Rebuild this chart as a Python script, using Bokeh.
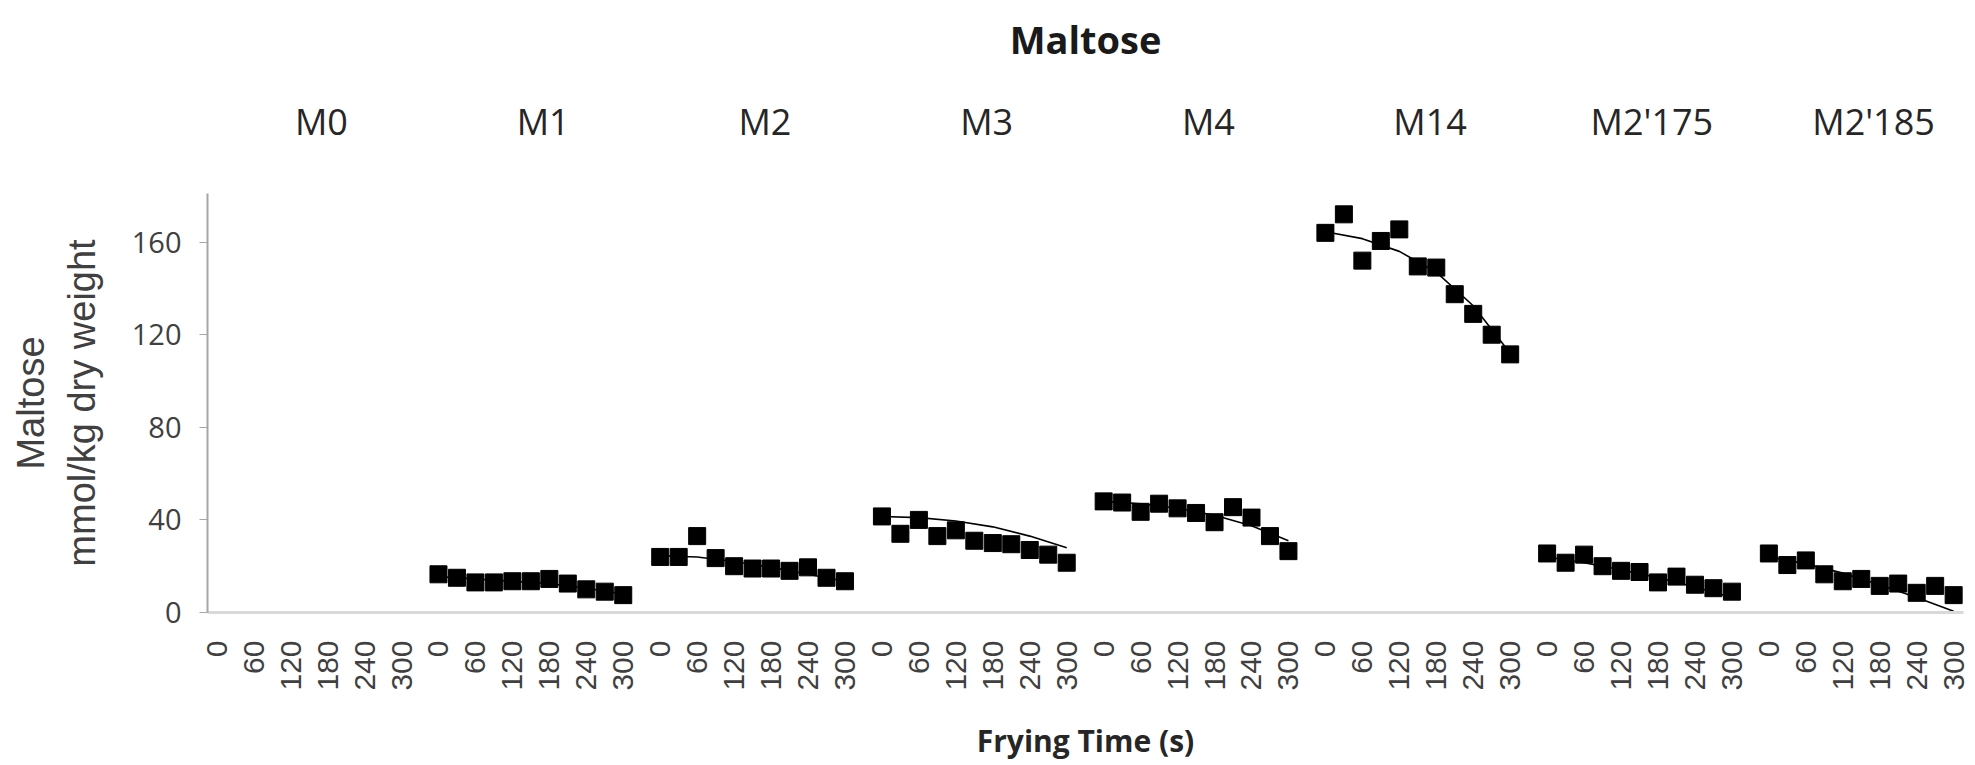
import math
from bokeh.plotting import figure
from bokeh.models import LinearAxis, FixedTicker, Range1d
from bokeh.embed import file_html
from bokeh.resources import INLINE

# ---- data ----
groups = ["M0", "M1", "M2", "M3", "M4", "M14", "M2'175", "M2'185"]
times = [0, 30, 60, 90, 120, 150, 180, 210, 240, 270, 300]
tick_times = [0, 60, 120, 180, 240, 300]

maltose_M0 = []
maltose_M1 = [16.5, 15, 13, 13, 13.5, 13.5, 14.5, 12.5, 10, 9, 7.5]
maltose_M2 = [24, 24, 33, 23.5, 20, 19, 19, 18, 19.5, 15, 13.5]
maltose_M3 = [41.5, 34, 40, 33, 35.5, 31, 30, 29.5, 27, 25, 21.5]
maltose_M4 = [48, 47.5, 43.5, 47, 45, 43, 39, 45.5, 41, 33, 26.5]
maltose_M14 = [164, 172, 152, 160.5, 165.5, 149.5, 149, 137.5, 129, 120, 111.5]
maltose_M2_175 = [25.5, 21.5, 25, 20, 18, 17.5, 13, 15.5, 12, 10.5, 9]
maltose_M2_185 = [25.5, 20.5, 22.5, 16.5, 13.5, 14.5, 11.5, 12.5, 8.5, 11.5, 7.5]

# model (trend) curves, read at 0, 60, ..., 300 s
fit_times = [0, 60, 120, 180, 240, 300]
fit_M0 = []
fit_M1 = [15.5, 14.5, 13.5, 12.5, 10.5, 8]
fit_M2 = [24.5, 24, 22, 19.5, 16.5, 13.5]
fit_M3 = [41.5, 41, 39.5, 37, 33, 28]
fit_M4 = [48, 47, 45, 42, 37.5, 31]
fit_M14 = [164.5, 161.5, 156, 147, 132.5, 112]
fit_M2_175 = [24, 21.5, 18.5, 15, 11, 6.5]
fit_M2_185 = [24, 21, 17, 12, 6.5, 0.5]

series = [maltose_M0, maltose_M1, maltose_M2, maltose_M3,
          maltose_M4, maltose_M14, maltose_M2_175, maltose_M2_185]
fits = [fit_M0, fit_M1, fit_M2, fit_M3, fit_M4, fit_M14, fit_M2_175, fit_M2_185]

y_ticks = [0, 40, 80, 120, 160]

# ---- layout ----
slot = 360        # one panel = 300 s plus one 60 s gap
name_pos = 170    # where the panel name sits inside its slot

p = figure(width=1975, height=765, output_backend="svg", toolbar_location=None,
           x_range=Range1d(-15, 7 * slot + 300 + 16), y_range=Range1d(0, 181),
           min_border_left=207, min_border_right=12, min_border_top=193,
           min_border_bottom=153, x_axis_type=None, y_axis_type=None,
           background_fill_color="white", border_fill_color="white")
p.outline_line_color = None
p.grid.visible = False

for g, (vals, fv) in enumerate(zip(series, fits)):
    if fv:
        p.line([g * slot + t for t in fit_times], fv, line_color="black", line_width=1.6)
    if vals:
        p.scatter([g * slot + t for t in times], vals, marker="square", size=17,
                  fill_color="black", line_color="black")

# y axis
yax = LinearAxis(ticker=FixedTicker(ticks=y_ticks))
yax.axis_label = "Maltose\nmmol/kg dry weight"
yax.axis_label_text_font = "Liberation Sans"
yax.axis_label_text_font_style = "normal"
yax.axis_label_text_font_size = "38px"
yax.axis_label_text_color = "#404040"
yax.axis_label_standoff = 26
yax.major_label_text_font = "Open Sans"
yax.major_label_text_font_size = "29px"
yax.major_label_text_color = "#404040"
yax.major_label_standoff = 18
yax.axis_line_color = "#a6a6a6"
yax.axis_line_width = 2
yax.major_tick_line_color = "#a6a6a6"
yax.major_tick_out = 8
yax.major_tick_in = 0
yax.minor_tick_line_color = None
p.add_layout(yax, "left")

# x axis (time within each panel)
xticks = [g * slot + t for g in range(len(groups)) for t in tick_times]
xax = LinearAxis(ticker=FixedTicker(ticks=xticks))
xax.major_label_overrides = {g * slot + t: str(t) for g in range(len(groups)) for t in tick_times}
xax.major_label_orientation = math.pi / 2
xax.major_label_text_font = "Liberation Sans"
xax.major_label_text_font_size = "30px"
xax.major_label_text_color = "#404040"
xax.major_label_standoff = 22
xax.axis_line_color = "#d9d9d9"
xax.axis_line_width = 3
xax.major_tick_line_color = None
xax.minor_tick_line_color = None
xax.axis_label = "Frying Time (s)"
xax.axis_label_text_font = "Open Sans"
xax.axis_label_text_font_style = "bold"
xax.axis_label_text_font_size = "30px"
xax.axis_label_text_color = "#262626"
xax.axis_label_standoff = 26
p.add_layout(xax, "below")

# panel names on top, with the chart title as this axis' label
gax = LinearAxis(ticker=FixedTicker(ticks=[g * slot + name_pos for g in range(len(groups))]))
gax.major_label_overrides = {g * slot + name_pos: name for g, name in enumerate(groups)}
gax.major_label_text_font = "Open Sans"
gax.major_label_text_font_size = "36px"
gax.major_label_text_color = "#262626"
gax.major_label_standoff = 42
gax.axis_line_color = None
gax.major_tick_line_color = None
gax.minor_tick_line_color = None
gax.axis_label = "Maltose"
gax.axis_label_text_font = "Open Sans"
gax.axis_label_text_font_style = "bold"
gax.axis_label_text_font_size = "38px"
gax.axis_label_text_color = "#1a1a1a"
gax.axis_label_standoff = 29
p.add_layout(gax, "above")

open("out.html", "w").write(file_html(p, INLINE))
